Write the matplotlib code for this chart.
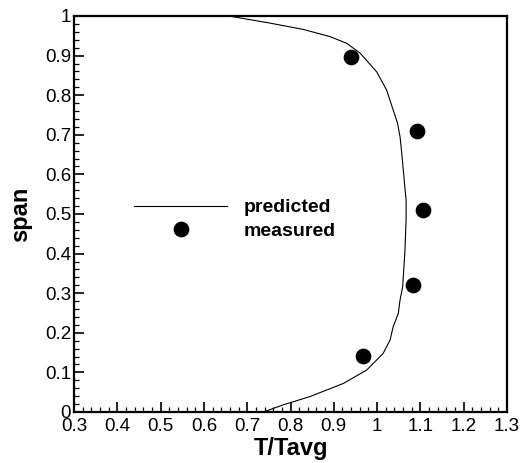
import matplotlib
matplotlib.use("Agg")
import matplotlib.pyplot as plt
from matplotlib.ticker import MultipleLocator, FormatStrFormatter
from matplotlib.lines import Line2D

plt.rcParams['font.family'] = ['Liberation Sans', 'DejaVu Sans']

# predicted profile
pred_x = [0.655, 0.668, 0.753, 0.830, 0.891, 0.930, 0.961, 0.999, 1.022, 1.037,
          1.047, 1.053, 1.057, 1.064, 1.067, 1.067, 1.064, 1.059, 1.053, 1.049,
          1.037, 1.030, 1.014, 0.976, 0.922, 0.845, 0.783, 0.745, 0.740]
pred_y = [1.000, 0.998, 0.982, 0.966, 0.948, 0.931, 0.906, 0.859, 0.813, 0.763,
          0.730, 0.695, 0.653, 0.569, 0.535, 0.485, 0.401, 0.316, 0.283, 0.249,
          0.215, 0.182, 0.148, 0.106, 0.072, 0.039, 0.018, 0.003, 0.000]

# measured points
meas_x = [0.939, 1.093, 1.107, 1.084, 0.968]
meas_y = [0.897, 0.710, 0.509, 0.320, 0.141]

fig = plt.figure(figsize=(5.22, 4.63), dpi=100)
ax = fig.add_axes([74/522, 51/463, 433/522, 396/463])

ax.plot(pred_x, pred_y, color='black', lw=0.8)
ax.plot(meas_x, meas_y, 'o', color='black', ms=10.3, ls='none')

ax.set_xlim(0.3, 1.3)
ax.set_ylim(0, 1)
ax.xaxis.set_major_locator(MultipleLocator(0.1))
ax.xaxis.set_minor_locator(MultipleLocator(0.02))
ax.yaxis.set_major_locator(MultipleLocator(0.1))
ax.yaxis.set_minor_locator(MultipleLocator(0.02))
ax.xaxis.set_major_formatter(FormatStrFormatter('%g'))
ax.yaxis.set_major_formatter(FormatStrFormatter('%g'))

ax.tick_params(which='both', direction='in', top=False, right=False,
               labelsize=13.5, width=1.2)
ax.tick_params(axis='x', pad=4)
ax.tick_params(axis='y', pad=2)
ax.tick_params(which='major', length=7.2)
ax.tick_params(which='minor', length=3.6, width=0.9)
for s in ax.spines.values():
    s.set_linewidth(1.6)

ax.set_xlabel('T/Tavg', fontsize=17, fontweight='bold', labelpad=2)
ax.set_ylabel('span', fontsize=17, fontweight='bold', labelpad=9)

handles = [Line2D([], [], color='black', lw=0.8),
           Line2D([], [], marker='o', color='black', ls='none', ms=10.3)]
leg = ax.legend(handles, ['predicted', 'measured'], loc='center left',
                bbox_to_anchor=(0.1386, 0.486), frameon=False,
                borderpad=0, borderaxespad=0,
                handlelength=4.8, handletextpad=0.82, labelspacing=0.32,
                prop={'weight': 'bold', 'size': 14})

fig.savefig('out.png', dpi=100)
